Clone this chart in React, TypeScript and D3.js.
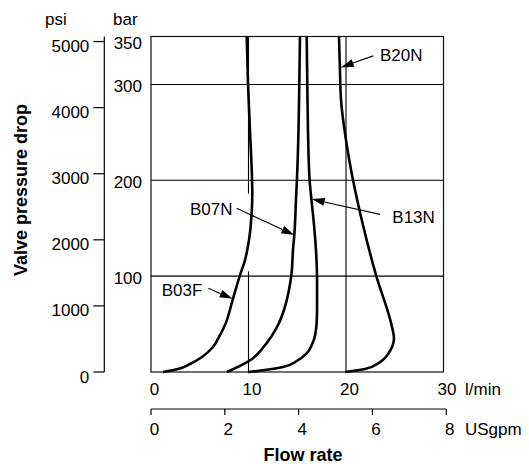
import React from 'react';
import * as d3 from 'd3';

const W = 529;
const H = 464;

const FLOW_TICKS = [0, 10, 20, 30];
const GPM_TICKS = [0, 2, 4, 6, 8];
const PSI_TICKS = [0, 1000, 2000, 3000, 4000, 5000];
const BAR_TICKS = [100, 200, 300, 350];
const BAR_GRID = [100, 200, 300];
const FLOW_GRID = [10, 20];
const LPM_PER_GPM = 3.785;
const PSI_PER_BAR = 14.5038;

// [flow l/min, pressure bar]
const B03F: [number, number][] = [
  [1.23, 0], [2.77, 3.1], [4.0, 8.3], [5.23, 15.6], [6.36, 26.1], [7.08, 38.6],
  [7.59, 49.0], [8.41, 76.6], [9.13, 101.1], [9.64, 116.8], [10.05, 137.6],
  [10.31, 163.7], [10.39, 186.7], [10.36, 201.3], [10.15, 252.3], [9.95, 300.3], [9.82, 350],
];
const B07N: [number, number][] = [
  [7.79, 0], [9.13, 6.3], [10.36, 13.6], [11.38, 24.0], [12.31, 36.5], [13.03, 49.0],
  [13.64, 64.7], [14.15, 85.5], [14.43, 104.3], [14.56, 127.2], [14.7, 142.9],
  [14.87, 179.4], [14.97, 201.3], [15.13, 252.3], [15.21, 300.3], [15.28, 350],
];
const B13N: [number, number][] = [
  [9.95, 0], [11.69, 2.1], [13.54, 5.2], [14.97, 11.5], [15.9, 18.8], [16.62, 31.3],
  [16.97, 49.0], [17.03, 64.7], [17.03, 95.9], [16.92, 127.2], [16.72, 153.3],
  [16.46, 179.4], [16.26, 201.3], [16.1, 252.3], [16.03, 300.3], [15.97, 350],
];
const B20N: [number, number][] = [
  [19.9, 0], [21.95, 3.1], [23.49, 10.4], [24.51, 21.9], [24.92, 35.5], [24.72, 46.9],
  [23.08, 101.1], [21.74, 153.3], [20.72, 200.2], [20.0, 241.9], [19.49, 283.6],
  [19.38, 314.9], [19.28, 350],
];
const SERIES = [B03F, B07N, B13N, B20N];

const LABELS = ['B20N', 'B13N', 'B07N', 'B03F'];
const LABEL_AT: [number, number][] = [[23.49, 324.3], [24.75, 155.1], [4.0, 163.7], [1.1, 79.2]];
const ARROW_FROM: [number, number][] = [[22.8, 329.8], [23.49, 164.4], [8.79, 170.7], [5.88, 87.3]];
const ARROW_TO: [number, number][] = [[19.46, 317.7], [16.48, 180.4], [14.7, 142.9], [8.38, 76.4]];

const FONT = '"Liberation Sans", Arial, Helvetica, sans-serif';

export default function App() {
  const x = d3.scaleLinear().domain([0, 30]).range([151, 443.5]);
  const yBar = d3.scaleLinear().domain([0, 350]).range([372, 36.5]);
  const yPsi = d3.scaleLinear().domain([0, 350 * PSI_PER_BAR]).range([372, 36.5]);
  const xGpm = d3.scaleLinear().domain([0, 8]).range([x(0), x(8 * LPM_PER_GPM)]);
  const psiAxisX = 104.3;

  const line = d3
    .line<[number, number]>()
    .x((d) => x(d[0]))
    .y((d) => yBar(d[1]))
    .curve(d3.curveMonotoneY);

  const arrowHead = (from: [number, number], to: [number, number]) => {
    const x1 = x(from[0]), y1 = yBar(from[1]);
    const x2 = x(to[0]), y2 = yBar(to[1]);
    const ang = Math.atan2(y2 - y1, x2 - x1);
    const L = 13, hw = 4;
    const bx = x2 - L * Math.cos(ang), by = y2 - L * Math.sin(ang);
    const px = -Math.sin(ang) * hw, py = Math.cos(ang) * hw;
    return { line: [x1, y1, bx, by], head: `M${x2},${y2}L${bx + px},${by + py}L${bx - px},${by - py}Z` };
  };

  return (
    <svg width={W} height={H} style={{ position: 'absolute', left: 0, top: 0, background: '#fff' }} fontFamily={FONT}>
      {/* unit labels */}
      <text x={45} y={25} fontSize={17}>psi</text>
      <text x={113} y={25} fontSize={17}>bar</text>

      {/* psi axis */}
      <line x1={psiAxisX} x2={psiAxisX} y1={yPsi.range()[1]} y2={yPsi(0)} stroke="#000" strokeWidth={1.2} />
      {PSI_TICKS.map((t) => (
        <g key={'psi' + t}>
          <line x1={psiAxisX - 11} x2={psiAxisX} y1={yPsi(t)} y2={yPsi(t)} stroke="#000" strokeWidth={1.2} />
          <text x={psiAxisX - 15} y={yPsi(t) + 10.5} fontSize={17} textAnchor="end">{t}</text>
        </g>
      ))}

      {/* bar labels */}
      {BAR_TICKS.map((t) => (
        <text key={'bar' + t} x={142} y={yBar(t) + (t === 350 ? 12.5 : 7.5)} fontSize={17} textAnchor="end">{t}</text>
      ))}

      {/* grid */}
      {BAR_GRID.map((t) => (
        <line key={'bg' + t} x1={x(0)} x2={x(30)} y1={yBar(t)} y2={yBar(t)} stroke="#000" strokeWidth={1.1} />
      ))}
      {FLOW_GRID.map((t) =>
        t === 10 ? (
          <g key={'fg' + t}>
            <line x1={x(t)} x2={x(t)} y1={yBar(0)} y2={yBar(105)} stroke="#000" strokeWidth={1.1} />
            <line x1={x(t)} x2={x(t)} y1={yBar(186)} y2={yBar(350)} stroke="#000" strokeWidth={1.1} />
          </g>
        ) : (
          <line key={'fg' + t} x1={x(t)} x2={x(t)} y1={yBar(0)} y2={yBar(350)} stroke="#000" strokeWidth={1.1} />
        )
      )}
      <rect x={x(0)} y={yBar(350)} width={x(30) - x(0)} height={yBar(0) - yBar(350)} fill="none" stroke="#111" strokeWidth={1.2} />

      {/* curves */}
      {SERIES.map((s, i) => (
        <path key={'s' + i} d={line(s.slice().reverse()) || ''} fill="none" stroke="#000" strokeWidth={2.6} strokeLinejoin="round" />
      ))}

      {/* annotations */}
      {LABELS.map((lab, i) => {
        const a = arrowHead(ARROW_FROM[i], ARROW_TO[i]);
        return (
          <g key={'a' + lab}>
            <line x1={a.line[0]} y1={a.line[1]} x2={a.line[2]} y2={a.line[3]} stroke="#000" strokeWidth={1.1} />
            <path d={a.head} fill="#000" />
            <text x={x(LABEL_AT[i][0])} y={yBar(LABEL_AT[i][1])} fontSize={17}>{lab}</text>
          </g>
        );
      })}

      {/* l/min axis labels */}
      {FLOW_TICKS.map((t) => (
        <text key={'fl' + t} x={x(t) + 3.5} y={395} fontSize={17} textAnchor="middle">{t}</text>
      ))}
      <text x={465} y={395} fontSize={17}>l/min</text>

      {/* USgpm axis */}
      <line x1={xGpm(0)} x2={xGpm(8)} y1={409} y2={409} stroke="#000" strokeWidth={1.2} />
      {GPM_TICKS.map((t) => (
        <g key={'g' + t}>
          <line x1={xGpm(t)} x2={xGpm(t)} y1={409} y2={415} stroke="#000" strokeWidth={1.2} />
          <text x={xGpm(t) + 3.5} y={435} fontSize={17} textAnchor="middle">{t}</text>
        </g>
      ))}
      <text x={465} y={435} fontSize={17}>USgpm</text>

      {/* titles */}
      <text x={303} y={461} fontSize={18} fontWeight="bold" textAnchor="middle">Flow rate</text>
      <text transform="translate(27,190) rotate(-90)" fontSize={18} fontWeight="bold" textAnchor="middle">Valve pressure drop</text>
    </svg>
  );
}
